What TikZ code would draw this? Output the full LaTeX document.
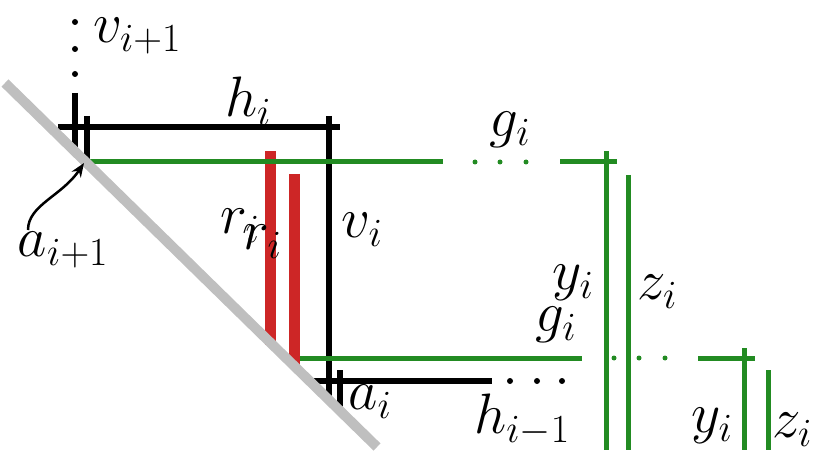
\RequirePackage{fix-cm}
\documentclass[tikz,border=0pt]{standalone}
\usetikzlibrary{arrows.meta}
\definecolor{gr}{RGB}{34,139,34}
\definecolor{rd}{RGB}{205,38,38}
\begin{document}
\begin{tikzpicture}[x=1pt,y=-1pt,
  blk/.style={line width=6pt,black},
  grn/.style={line width=5pt,gr},
  red/.style={line width=11pt,rd},
  dotb/.style={circle,fill=black,inner sep=0pt,minimum size=6pt},
  dotg/.style={circle,fill=gr,inner sep=0pt,minimum size=5pt},
  lab/.style={inner sep=0pt,font=\fontsize{57}{60}\selectfont}]
\useasboundingbox (0,0) rectangle (829,457);
% black
\foreach \y [count=\k] in {22,49,74} \node[dotb] (bd\k) at (75,\y) {};
\draw[blk] (75,93) -- (75,150);
\draw[blk] (87,116) -- (87,160);
\draw[blk] (58,127) -- (340,127);
\draw[blk] (329,116) -- (329,402);
\draw[blk] (310,381) -- (492,381);
\draw[blk] (340,370) -- (340,412);
\foreach \x [count=\k] in {510,537,562} \node[dotb] (be\k) at (\x,381) {};
% red
\draw[red] (270,151) -- (270,345);
\draw[red] (294,174) -- (294,366);
% green
\draw[grn] (87,162) -- (443,162);
\foreach \x [count=\k] in {475,500,526} \node[dotg] (gd\k) at (\x,162) {};
\draw[grn] (560,162) -- (617,162);
\draw[grn] (606,151) -- (606,450);
\draw[grn] (628,175) -- (628,450);
\draw[grn] (300,358) -- (582,358);
\foreach \x [count=\k] in {614,639,665} \node[dotg] (ge\k) at (\x,358) {};
\draw[grn] (698,358) -- (755,358);
\draw[grn] (744,348) -- (744,450);
\draw[grn] (768,370) -- (768,450);
% gray diagonal
\draw[line width=10pt,gray!50] (5,83) -- (377,447);
% labels
\node[lab] (l1) at (137,36) {$v_{i+1}$};
\node[lab] (l2) at (248,101) {$h_i$};
\node[lab] (l3) at (510,130) {$g_i$};
\node[lab] (l4) at (240,226) {$r_i$};
\node[lab] (l5) at (262,242) {$r_i$};
\node[lab] (l6) at (362,230) {$v_i$};
\node[lab] (l7) at (63,250) {$a_{i+1}$};
\node[lab] (l8) at (573,283) {$y_i$};
\node[lab] (l9) at (657,292) {$z_i$};
\node[lab] (l10) at (556,325) {$g_i$};
\node[lab] (l11) at (370,402) {$a_i$};
\node[lab] (l12) at (522,420) {$h_{i-1}$};
\node[lab] (l13) at (712,426) {$y_i$};
\node[lab] (l14) at (792,430) {$z_i$};
\coordinate (tip) at (84,163);
\draw[line width=2.5pt,-{Stealth[length=14pt,width=11pt]}] (28,230) .. controls (28,205) and (62,196) .. (tip);
\end{tikzpicture}
\end{document}
